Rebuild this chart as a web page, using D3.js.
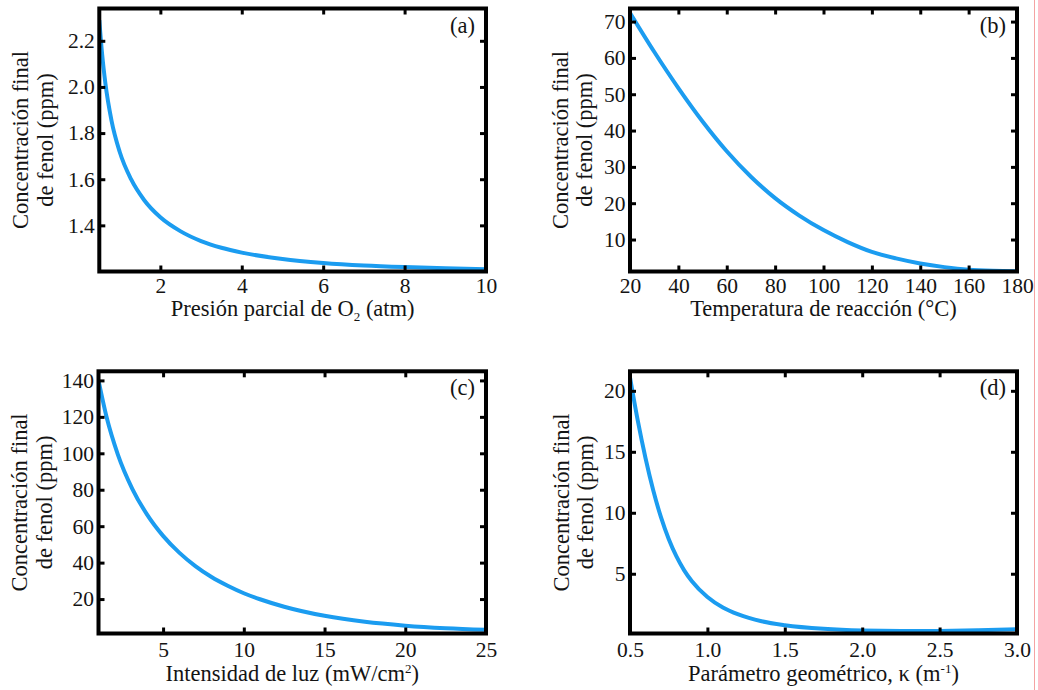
<!DOCTYPE html>
<html>
<head>
<meta charset="utf-8">
<script src="https://cdn.jsdelivr.net/npm/d3@7"></script>
<style>
  body { margin: 0; background: #fff; }
  svg { display: block; }
  text { font-family: "Liberation Serif", "Times New Roman", serif; fill: #141414; }
</style>
</head>
<body>
<svg id="chart" width="1038" height="690"></svg>
<script>
// (a) Presión parcial de O2 (atm) vs concentración final de fenol (ppm)
const presionO2 = [0.5, 0.57, 0.65, 0.8, 1.0, 1.28, 1.6, 2.0, 2.5, 3, 3.5, 4, 5, 6, 7, 8, 9, 10];
const fenolPresion = [2.29, 2.141, 2.015, 1.854, 1.719, 1.60, 1.51, 1.435, 1.374, 1.332, 1.303, 1.282, 1.254, 1.237, 1.226, 1.219, 1.214, 1.21];
const ticksPresion = [2, 4, 6, 8, 10];
const ticksFenolA = [1.4, 1.6, 1.8, 2.0, 2.2];

// (b) Temperatura de reacción (°C)
const temperatura = [20, 30, 40, 50, 60, 70, 80, 90, 100, 110, 120, 130, 140, 150, 160, 170, 180];
const fenolTemperatura = [72.4, 61.7, 51.7, 42.5, 34.3, 27.3, 21.4, 16.6, 12.6, 9.3, 6.6, 4.8, 3.4, 2.4, 1.7, 1.4, 1.3];
const ticksTemperatura = [20, 40, 60, 80, 100, 120, 140, 160, 180];
const ticksFenolB = [10, 20, 30, 40, 50, 60, 70];

// (c) Intensidad de luz (mW/cm²)
const intensidad = [1, 1.5, 2.2, 3.1, 4, 5, 6, 7, 8, 9, 10, 11, 12.5, 15, 17.5, 20, 22.5, 25];
const fenolIntensidad = [140, 119.9, 99.3, 80.4, 66.5, 54.7, 45.5, 38.1, 32.1, 27.3, 23.2, 19.9, 15.8, 10.8, 7.5, 5.4, 4.0, 3.1];
const ticksIntensidad = [5, 10, 15, 20, 25];
const ticksFenolC = [20, 40, 60, 80, 100, 120, 140];

// (d) Parámetro geométrico, κ (m⁻¹)
const kappa = [0.5, 0.55, 0.6, 0.65, 0.7, 0.75, 0.8, 0.85, 0.9, 1.0, 1.1, 1.2, 1.35, 1.5, 1.75, 2.0, 2.25, 2.5, 2.75, 3.0];
const fenolKappa = [21.1, 17.57, 14.49, 11.84, 9.64, 7.85, 6.42, 5.28, 4.38, 3.09, 2.23, 1.66, 1.1, 0.78, 0.48, 0.34, 0.30, 0.31, 0.36, 0.44];
const ticksKappa = [0.5, 1.0, 1.5, 2.0, 2.5, 3.0];
const ticksFenolD = [5, 10, 15, 20];

const yLabelLines = ["Concentración final", "de fenol (ppm)"];
const panelTags = ["(a)", "(b)", "(c)", "(d)"];

const panels = [
  { tag: panelTags[0], xs: presionO2, ys: fenolPresion, xDom: [0.5, 10], yDom: [1.2, 2.34],
    xTicks: ticksPresion, yTicks: ticksFenolA, xFmt: d3.format("d"), yFmt: d3.format(".1f"),
    x0: 99.3, x1: 486, y0: 8.5, y1: 271.5, labX: [28, 53], tickPad: 6, titleOff: 44,
    xLabel: [["Presión parcial de O", 0], ["2", 1], [" (atm)", 0]] },
  { tag: panelTags[1], xs: temperatura, ys: fenolTemperatura, xDom: [20, 180], yDom: [1.2, 73.6],
    xTicks: ticksTemperatura, yTicks: ticksFenolB, xFmt: d3.format("d"), yFmt: d3.format("d"),
    x0: 630, x1: 1017, y0: 8.5, y1: 271.5, labX: [568, 592], tickPad: 6, titleOff: 44,
    xLabel: [["Temperatura de reacción (°C)", 0]] },
  { tag: panelTags[2], xs: intensidad, ys: fenolIntensidad, xDom: [1, 25], yDom: [1.1, 145],
    xTicks: ticksIntensidad, yTicks: ticksFenolC, xFmt: d3.format("d"), yFmt: d3.format("d"),
    x0: 98.5, x1: 486, y0: 371.3, y1: 633.5, labX: [26.5, 51.5], tickPad: 8.5, titleOff: 47.5,
    xLabel: [["Intensidad de luz (mW/cm", 0], ["2", -1], [")", 0]] },
  { tag: panelTags[3], xs: kappa, ys: fenolKappa, xDom: [0.5, 3], yDom: [0.1, 21.6],
    xTicks: ticksKappa, yTicks: ticksFenolD, xFmt: d3.format(".1f"), yFmt: d3.format("d"),
    x0: 630, x1: 1017, y0: 371.3, y1: 633.5, labX: [569, 593], tickPad: 8.5, titleOff: 47.5,
    xLabel: [["Parámetro geométrico, κ (m", 0], ["-1", -1], [")", 0]] }
];

const svg = d3.select("#chart");
const TICK_FONT = 21.5, LABEL_FONT = 22.5, TICK_LEN = 6;

// thin red guide at the right edge of the page
svg.append("line")
  .attr("x1", 1034.5).attr("x2", 1034.5).attr("y1", 0).attr("y2", 690)
  .attr("stroke", "#f5a3a3").attr("stroke-width", 1);

panels.forEach((p, i) => {
  const x = d3.scaleLinear().domain(p.xDom).range([p.x0, p.x1]);
  const y = d3.scaleLinear().domain(p.yDom).range([p.y1, p.y0]);
  const g = svg.append("g");

  const clipId = "clip" + i;
  svg.append("clipPath").attr("id", clipId)
    .append("rect").attr("x", p.x0).attr("y", p.y0)
    .attr("width", p.x1 - p.x0).attr("height", p.y1 - p.y0);

  // curve
  const line = d3.line().x((d, k) => x(p.xs[k])).y(d => y(d)).curve(d3.curveMonotoneX);
  g.append("path").datum(p.ys)
    .attr("clip-path", `url(#${clipId})`)
    .attr("d", line)
    .attr("fill", "none")
    .attr("stroke", "#1b9cf0")
    .attr("stroke-width", 4)
    .attr("stroke-linejoin", "round");

  // axes with inward ticks on all four sides
  const styleAxis = sel => {
    sel.select(".domain").remove();
    sel.selectAll(".tick line").attr("stroke", "#000").attr("stroke-width", 3);
    sel.selectAll(".tick text").attr("font-size", TICK_FONT).attr("fill", "#141414")
      .style("font-family", '"Liberation Serif", serif');
  };
  g.append("g").attr("transform", `translate(0,${p.y1})`)
    .call(d3.axisBottom(x).tickValues(p.xTicks).tickFormat(p.xFmt).tickSizeInner(-TICK_LEN).tickSizeOuter(0).tickPadding(p.tickPad))
    .call(styleAxis);
  g.append("g").attr("transform", `translate(0,${p.y0})`)
    .call(d3.axisTop(x).tickValues(p.xTicks).tickFormat("").tickSizeInner(-TICK_LEN).tickSizeOuter(0))
    .call(styleAxis);
  g.append("g").attr("transform", `translate(${p.x0},0)`)
    .call(d3.axisLeft(y).tickValues(p.yTicks).tickFormat(p.yFmt).tickSizeInner(-TICK_LEN).tickSizeOuter(0).tickPadding(4.5))
    .call(styleAxis);
  g.append("g").attr("transform", `translate(${p.x1},0)`)
    .call(d3.axisRight(y).tickValues(p.yTicks).tickFormat("").tickSizeInner(-TICK_LEN).tickSizeOuter(0))
    .call(styleAxis);

  // frame
  g.append("rect")
    .attr("x", p.x0).attr("y", p.y0)
    .attr("width", p.x1 - p.x0).attr("height", p.y1 - p.y0)
    .attr("fill", "none").attr("stroke", "#000").attr("stroke-width", 4);

  // panel tag
  g.append("text")
    .attr("x", p.x1 - 11).attr("y", p.y0 + 24)
    .attr("text-anchor", "end")
    .attr("font-size", LABEL_FONT)
    .text(p.tag);

  // x-axis title with sub/superscripts
  const xt = g.append("text")
    .attr("x", (p.x0 + p.x1) / 2).attr("y", p.y1 + p.titleOff)
    .attr("text-anchor", "middle")
    .attr("font-size", LABEL_FONT);
  let lift = 0;
  p.xLabel.forEach(([txt, shift]) => {
    const t = xt.append("tspan").text(txt);
    const target = shift > 0 ? 5 : shift < 0 ? -8 : 0;
    if (target !== lift) t.attr("dy", target - lift);
    if (shift !== 0) t.attr("font-size", 13);
    lift = target;
  });

  // y-axis title, two lines
  const cy = (p.y0 + p.y1) / 2;
  yLabelLines.forEach((ln, k) => {
    g.append("text")
      .attr("transform", `translate(${p.labX[k]},${cy}) rotate(-90)`)
      .attr("text-anchor", "middle")
      .attr("font-size", LABEL_FONT)
      .text(ln);
  });
});
</script>
</body>
</html>
